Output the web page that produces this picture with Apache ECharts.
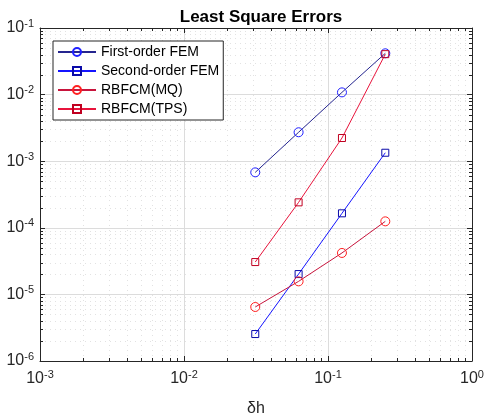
<!DOCTYPE html>
<html>
<head>
<meta charset="utf-8">
<script src="https://cdn.jsdelivr.net/npm/echarts@6/dist/echarts.min.js"></script>
<style>html,body{margin:0;padding:0;background:#fff}#c{width:493px;height:413px}</style>
</head>
<body>
<div id="c"></div>
<script>
const h = [0.03125, 0.0625, 0.125, 0.25];
const firstFEM = [6.8e-4, 2.72e-3, 1.08e-2, 4.17e-2];
const secondFEM = [2.54e-6, 2.02e-5, 1.65e-4, 1.34e-3];
const rbfMQ = [6.47e-6, 1.57e-5, 4.19e-5, 1.25e-4];
const rbfTPS = [3.06e-5, 2.41e-4, 2.23e-3, 4.05e-2];
const seriesNames = ['First-order FEM', 'Second-order FEM', 'RBFCM(MQ)', 'RBFCM(TPS)'];
const xMin = 1e-3, xMax = 1, yMin = 1e-6, yMax = 1e-1;
const minorMult = [2, 3, 4, 5, 6, 7, 8, 9];

const FONT = '"Liberation Sans", Arial, sans-serif';
const pairs = arr => h.map((x, i) => [x, arr[i]]);

const labelFmt = v => '{b|10}{s|' + Math.round(Math.log10(v)) + '}';
const richLab = {
  b: {fontSize: 16, fontFamily: FONT, color: '#262626'},
  s: {fontSize: 11, fontFamily: FONT, color: '#262626', verticalAlign: 'bottom', padding: [0, 0, 9, 0]}
};

function logAxis(pos, min, max, show) {
  return {
    type: 'log', logBase: 10, min: min, max: max, position: pos,
    axisLine: {show: true, onZero: false, lineStyle: {color: '#262626', width: 1}},
    axisTick: {show: true, inside: true, length: 5, lineStyle: {color: '#262626'}},
    axisLabel: show ? {formatter: labelFmt, rich: richLab, margin: 6} : {show: false},
    splitLine: {show: show, lineStyle: {color: '#dcdcdc', width: 1}},
    minorTick: {show: false}
  };
}

const xa = logAxis('bottom', xMin, xMax, true);
xa.name = 'δh';
xa.nameLocation = 'middle';
xa.nameGap = 40;
xa.nameTextStyle = {fontSize: 16, fontFamily: FONT, color: '#262626'};
xa.axisLabel.margin = 8;
const xaTop = logAxis('top', xMin, xMax, false);
const ya = logAxis('left', yMin, yMax, true);
const yaRight = logAxis('right', yMin, yMax, false);

function decadesMinor(lo, hi) {
  const out = [];
  for (let k = Math.round(Math.log10(lo)); k < Math.round(Math.log10(hi)); k++) {
    minorMult.forEach(m => out.push(m * Math.pow(10, k)));
  }
  return out;
}
const xMinor = decadesMinor(xMin, xMax);
const yMinor = decadesMinor(yMin, yMax);

function minorRender(params, api) {
  if (params.dataIndex !== 0) return;
  const bl = api.coord([xMin, yMin]);
  const tr = api.coord([xMax, yMax]);
  const L = bl[0], B = bl[1], R = tr[0], T = tr[1];
  const ch = [];
  const gridStyle = {stroke: '#e2e2e2', lineWidth: 1, lineDash: [1, 4]};
  const tickStyle = {stroke: '#262626', lineWidth: 1};
  const tl = 3;
  xMinor.forEach(v => {
    const x = Math.round(api.coord([v, yMin])[0]) + 0.5;
    ch.push({type: 'line', shape: {x1: x, y1: B, x2: x, y2: T}, style: gridStyle, silent: true});
    ch.push({type: 'line', shape: {x1: x, y1: B, x2: x, y2: B - tl}, style: tickStyle, silent: true});
    ch.push({type: 'line', shape: {x1: x, y1: T, x2: x, y2: T + tl}, style: tickStyle, silent: true});
  });
  yMinor.forEach(v => {
    const y = Math.round(api.coord([xMin, v])[1]) + 0.5;
    ch.push({type: 'line', shape: {x1: L, y1: y, x2: R, y2: y}, style: gridStyle, silent: true});
    ch.push({type: 'line', shape: {x1: L, y1: y, x2: L + tl, y2: y}, style: tickStyle, silent: true});
    ch.push({type: 'line', shape: {x1: R, y1: y, x2: R - tl, y2: y}, style: tickStyle, silent: true});
  });
  return {type: 'group', children: ch};
}

function lineSeries(name, data, lineColor, markColor, symbol, size) {
  return {
    name: name, type: 'line', data: pairs(data),
    symbol: symbol, symbolSize: size, showSymbol: true,
    lineStyle: {color: lineColor, width: 1},
    itemStyle: {color: 'rgba(255,255,255,0)', borderColor: markColor, borderWidth: 1},
    emphasis: {disabled: true}, z: 5, animation: false
  };
}

const chart = echarts.init(document.getElementById('c'), null, {renderer: 'canvas'});
chart.setOption({
  backgroundColor: '#ffffff',
  animation: false,
  title: {
    text: 'Least Square Errors', left: 256, top: 4, textAlign: 'center',
    textStyle: {fontSize: 17, fontWeight: 'bold', fontFamily: FONT, color: '#000'}
  },
  grid: {left: 40, right: 21, top: 28, bottom: 52, containLabel: false, outerBoundsMode: 'none'},
  xAxis: [xa, xaTop],
  yAxis: [ya, yaRight],
  legend: {
    data: seriesNames,
    orient: 'vertical', left: 53, top: 41,
    backgroundColor: '#ffffff', borderColor: '#262626', borderWidth: 1, borderRadius: 0,
    padding: [3, 4, 3, 4], itemGap: 3, itemWidth: 38, itemHeight: 10,
    textStyle: {fontSize: 14, fontFamily: FONT, color: '#000', lineHeight: 16},
    selectedMode: false, z: 10
  },
  series: [
    {type: 'custom', renderItem: minorRender, data: [[0.01, 0.001]], silent: true, z: 1,
     animation: false, clip: false, legendHoverLink: false},
    lineSeries(seriesNames[0], firstFEM, '#25258f', '#1f1fff', 'circle', 9),
    lineSeries(seriesNames[1], secondFEM, '#1414ff', '#0a0aa8', 'rect', 7),
    lineSeries(seriesNames[2], rbfMQ, '#c8143c', '#ff2020', 'circle', 9),
    lineSeries(seriesNames[3], rbfTPS, '#e8143c', '#c00020', 'rect', 7)
  ]
});
</script>
</body>
</html>
